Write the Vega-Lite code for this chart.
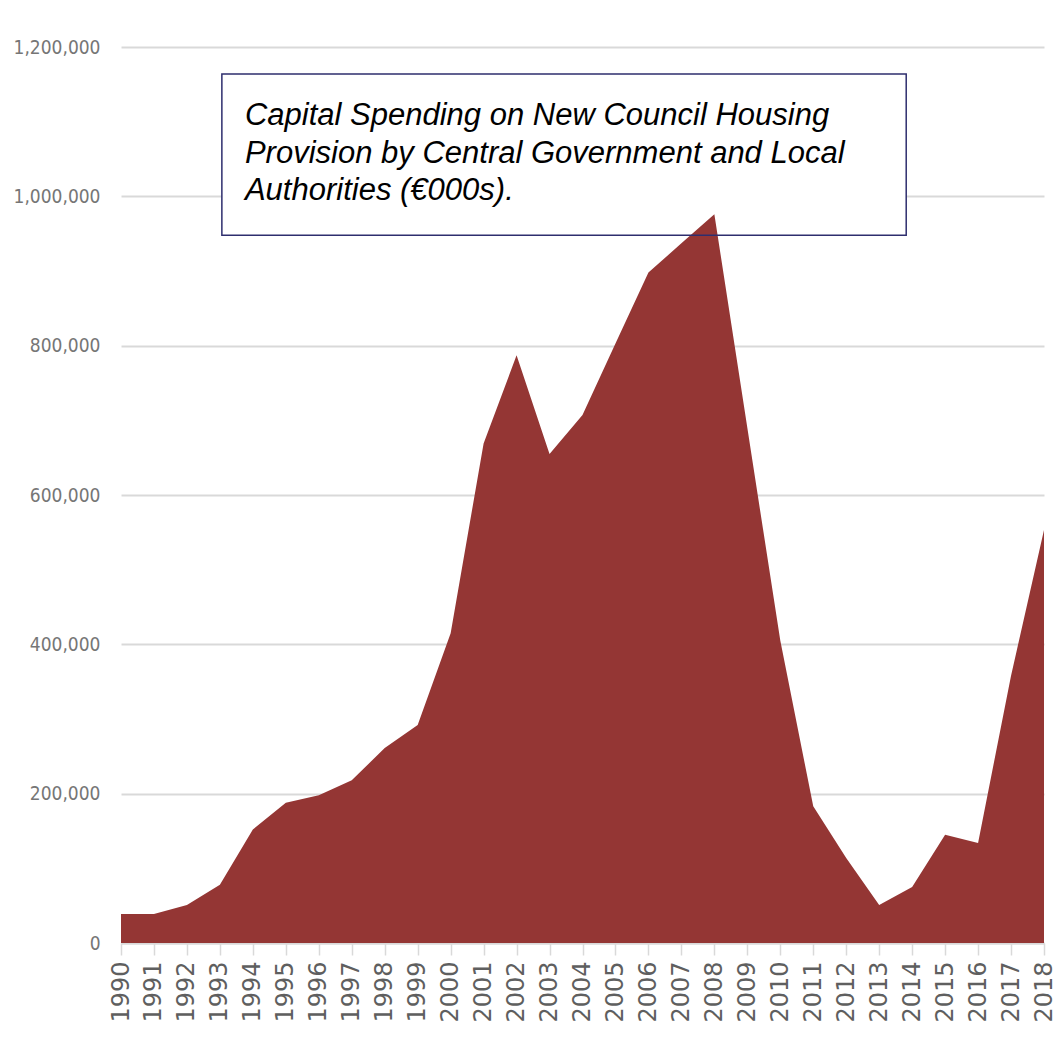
{
  "$schema": "https://vega.github.io/schema/vega-lite/v6.json",
  "autosize": "none",
  "width": 923,
  "height": 896,
  "padding": {"left": 121, "top": 47, "right": 13, "bottom": 118},
  "background": "white",
  "config": {
    "view": {"stroke": null},
    "axis": {"labelColor": "#767676", "title": null}
  },
  "data": {
    "values": [
      {"year": 1990, "spending": 39000},
      {"year": 1991, "spending": 39000},
      {"year": 1992, "spending": 51000},
      {"year": 1993, "spending": 78000},
      {"year": 1994, "spending": 152000},
      {"year": 1995, "spending": 188000},
      {"year": 1996, "spending": 198000},
      {"year": 1997, "spending": 218000},
      {"year": 1998, "spending": 261000},
      {"year": 1999, "spending": 292000},
      {"year": 2000, "spending": 415000},
      {"year": 2001, "spending": 669000},
      {"year": 2002, "spending": 787000},
      {"year": 2003, "spending": 655000},
      {"year": 2004, "spending": 707000},
      {"year": 2005, "spending": 803000},
      {"year": 2006, "spending": 898000},
      {"year": 2007, "spending": 937000},
      {"year": 2008, "spending": 976000},
      {"year": 2009, "spending": 690000},
      {"year": 2010, "spending": 405000},
      {"year": 2011, "spending": 183000},
      {"year": 2012, "spending": 114000},
      {"year": 2013, "spending": 51000},
      {"year": 2014, "spending": 75000},
      {"year": 2015, "spending": 145000},
      {"year": 2016, "spending": 134000},
      {"year": 2017, "spending": 358000},
      {"year": 2018, "spending": 553000}
    ]
  },
  "encoding": {
    "x": {
      "field": "year",
      "type": "quantitative",
      "scale": {"domain": [1990, 2018], "nice": false, "zero": false},
      "axis": {
        "values": [1990, 1991, 1992, 1993, 1994, 1995, 1996, 1997, 1998, 1999, 2000, 2001, 2002, 2003, 2004, 2005, 2006, 2007, 2008, 2009, 2010, 2011, 2012, 2013, 2014, 2015, 2016, 2017, 2018],
        "format": "d",
        "labelAngle": 270,
        "labelFont": "DejaVu Sans",
        "labelFontSize": 24,
        "labelColor": "#5f5f5f",
        "labelPadding": 6,
        "labelOverlap": false,
        "labelFlush": false,
        "grid": false,
        "domainColor": "#d9d9d9",
        "domainWidth": 2,
        "tickColor": "#d9d9d9",
        "tickWidth": 1.5,
        "tickSize": 12
      }
    },
    "y": {
      "field": "spending",
      "type": "quantitative",
      "scale": {"domain": [0, 1200000], "nice": false},
      "axis": {
        "values": [0, 200000, 400000, 600000, 800000, 1000000, 1200000],
        "format": ",d",
        "labelFont": "Liberation Sans Narrow, DejaVu Sans Condensed, Roboto Condensed, Liberation Sans",
        "labelFontSize": 19,
        "labelPadding": 21,
        "domain": false,
        "ticks": false,
        "gridColor": "#d9d9d9",
        "gridWidth": 2
      }
    }
  },
  "layer": [
    {
      "transform": [{"filter": "datum.year === 1990"}],
      "mark": {"type": "rect", "fill": "white", "stroke": null},
      "encoding": {
        "x": {"datum": 1993.06},
        "x2": {"datum": 2013.82},
        "y": {"datum": 948000},
        "y2": {"datum": 1164000}
      }
    },
    {
      "mark": {"type": "area", "color": "#943634", "interpolate": "linear"}
    },
    {
      "transform": [{"filter": "datum.year === 1990"}],
      "mark": {"type": "rect", "fill": null, "stroke": "#2e2e6e", "strokeWidth": 1.5},
      "encoding": {
        "x": {"datum": 1993.06},
        "x2": {"datum": 2013.82},
        "y": {"datum": 948000},
        "y2": {"datum": 1164000}
      }
    },
    {
      "transform": [{"filter": "datum.year === 1990"}],
      "mark": {
        "type": "text",
        "text": ["Capital Spending on New Council Housing", "Provision by Central Government and Local", "Authorities (€000s)."],
        "font": "Liberation Sans",
        "fontStyle": "italic",
        "fontSize": 31,
        "lineHeight": 37.5,
        "fill": "black",
        "align": "left",
        "baseline": "alphabetic"
      },
      "encoding": {
        "x": {"datum": 1993.76},
        "y": {"datum": 1095500}
      }
    }
  ]
}
